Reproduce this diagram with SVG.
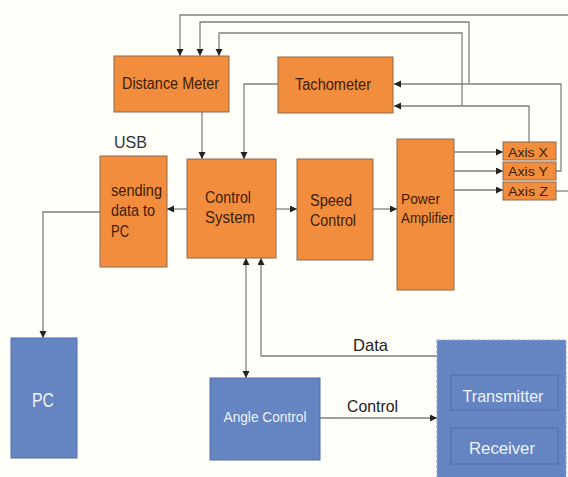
<svg xmlns="http://www.w3.org/2000/svg" width="568" height="477" viewBox="0 0 568 477">
<defs>
<marker id="arr" markerUnits="userSpaceOnUse" markerWidth="8" markerHeight="8" refX="7" refY="3.5" orient="auto-start-reverse">
<path d="M0,0 L7,3.5 L0,7 z" fill="#222"/>
</marker>
<style>
.o{fill:#F28D3E;stroke:#8C6A4F;stroke-width:1}
.b{fill:#6585C2;stroke:#4E6DA8;stroke-width:1}
.ot{font-family:"Liberation Sans",Arial,sans-serif;fill:#3b1e08;font-size:16px}
.bt{font-family:"Liberation Sans",Arial,sans-serif;fill:#eef2fa;font-size:17px}
.lt{font-family:"Liberation Sans",Arial,sans-serif;fill:#222;font-size:17px}
.c{fill:none;stroke:#808080;stroke-width:1.3}
.a{marker-end:url(#arr)}
</style>
</defs>
<rect width="568" height="477" fill="#fffef9"/>

<g id="connectors">
<polyline class="c a" points="568,15 180,15 180,56"/>
<polyline class="c a" points="469,83 469,22 200,22 200,56"/>
<polyline class="c a" points="462,106 462,33 219,33 219,56"/>
<polyline class="c a" points="556,171 561,171 561,84 394,84"/>
<polyline class="c a" points="529,142 529,106 394,106"/>
<line class="c" x1="556" y1="191" x2="568" y2="191"/>
<line class="c a" x1="454" y1="152" x2="503" y2="152"/>
<line class="c a" x1="454" y1="171" x2="503" y2="171"/>
<line class="c a" x1="454" y1="190" x2="503" y2="190"/>
<line class="c a" x1="373" y1="209" x2="397" y2="209"/>
<line class="c a" x1="276" y1="209" x2="297" y2="209"/>
<line class="c a" x1="187" y1="209" x2="167" y2="209"/>
<polyline class="c a" points="100,212 43,212 43,338"/>
<line class="c a" x1="202" y1="112" x2="202" y2="159"/>
<polyline class="c a" points="278,84 244,84 244,159"/>
<line class="c a" x1="246" y1="258" x2="246" y2="378" style="marker-start:url(#arr)"/>
<polyline class="c a" points="437,356 261,356 261,258"/>
<line class="c a" x1="320" y1="418" x2="437" y2="418"/>
</g>

<g id="distance-meter">
<rect class="o" x="114" y="56" width="115" height="56"/>
<text class="ot" x="122" y="89" textLength="97" lengthAdjust="spacingAndGlyphs">Distance Meter</text>
</g>
<g id="tachometer">
<rect class="o" x="278" y="57" width="115" height="56"/>
<text class="ot" x="295" y="90" textLength="76" lengthAdjust="spacingAndGlyphs">Tachometer</text>
</g>
<g id="usb-label">
<text class="lt" x="114" y="148" textLength="33" lengthAdjust="spacingAndGlyphs" style="fill:#333">USB</text>
</g>
<g id="sending">
<rect class="o" x="100" y="156" width="67" height="111"/>
<text class="ot" x="111" y="196" textLength="51" lengthAdjust="spacingAndGlyphs">sending</text>
<text class="ot" x="111" y="216" textLength="44" lengthAdjust="spacingAndGlyphs">data to</text>
<text class="ot" x="111" y="237" textLength="18" lengthAdjust="spacingAndGlyphs">PC</text>
</g>
<g id="control-system">
<rect class="o" x="187" y="159" width="89" height="99"/>
<text class="ot" x="205" y="203" textLength="46" lengthAdjust="spacingAndGlyphs">Control</text>
<text class="ot" x="205" y="223" textLength="50" lengthAdjust="spacingAndGlyphs">System</text>
</g>
<g id="speed-control">
<rect class="o" x="297" y="159" width="76" height="101"/>
<text class="ot" x="310" y="206" textLength="42" lengthAdjust="spacingAndGlyphs">Speed</text>
<text class="ot" x="310" y="226" textLength="46" lengthAdjust="spacingAndGlyphs">Control</text>
</g>
<g id="power-amplifier">
<rect class="o" x="397" y="139" width="57" height="151"/>
<text class="ot" x="401" y="204" textLength="39" lengthAdjust="spacingAndGlyphs" style="font-size:15px">Power</text>
<text class="ot" x="401" y="223" textLength="52" lengthAdjust="spacingAndGlyphs" style="font-size:15px">Amplifier</text>
</g>
<g id="axis-x">
<rect class="o" x="503" y="142" width="53" height="18"/>
<text class="ot" x="508" y="157" textLength="40" lengthAdjust="spacingAndGlyphs" style="font-size:13px">Axis X</text>
</g>
<g id="axis-y">
<rect class="o" x="503" y="162" width="53" height="18"/>
<text class="ot" x="508" y="176" textLength="40" lengthAdjust="spacingAndGlyphs" style="font-size:13px">Axis Y</text>
</g>
<g id="axis-z">
<rect class="o" x="503" y="182" width="53" height="18"/>
<text class="ot" x="508" y="196" textLength="40" lengthAdjust="spacingAndGlyphs" style="font-size:13px">Axis Z</text>
</g>
<g id="pc">
<rect class="b" x="11" y="338" width="66" height="120"/>
<text class="bt" x="43" y="407" text-anchor="middle" textLength="22" lengthAdjust="spacingAndGlyphs" style="font-size:21px">PC</text>
</g>
<g id="angle-control">
<rect class="b" x="210" y="378" width="110" height="82"/>
<text class="bt" x="265" y="422" text-anchor="middle" textLength="83" lengthAdjust="spacingAndGlyphs" style="font-size:14px">Angle Control</text>
</g>
<g id="labels">
<text class="lt" x="353" y="351" textLength="35" lengthAdjust="spacingAndGlyphs">Data</text>
<text class="lt" x="347" y="412" textLength="51" lengthAdjust="spacingAndGlyphs">Control</text>
</g>
<g id="tx-rx">
<rect x="437" y="340" width="129" height="140" fill="#6585C2" stroke="#97A8C8" stroke-width="1.2" stroke-dasharray="3,2"/>
<g id="transmitter">
<rect class="b" x="451" y="375" width="107" height="35"/>
<text class="bt" x="503" y="402" text-anchor="middle" textLength="81" lengthAdjust="spacingAndGlyphs">Transmitter</text>
</g>
<g id="receiver">
<rect class="b" x="451" y="428" width="107" height="36"/>
<text class="bt" x="502" y="454" text-anchor="middle" textLength="66" lengthAdjust="spacingAndGlyphs">Receiver</text>
</g>
</g>
</svg>
